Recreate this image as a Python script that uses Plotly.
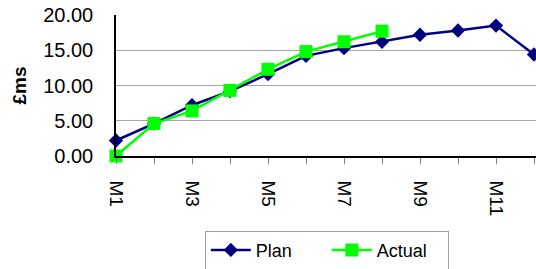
import plotly.graph_objects as go

months = ["M1", "M2", "M3", "M4", "M5", "M6", "M7", "M8", "M9", "M10", "M11", "M12"]
tick_labels = ["M1", "", "M3", "", "M5", "", "M7", "", "M9", "", "M11", ""]
plan = [2.2, 4.6, 7.2, 9.2, 11.6, 14.2, 15.3, 16.2, 17.2, 17.8, 18.5, 14.4]
actual = [0.0, 4.6, 6.4, 9.3, 12.3, 14.8, 16.2, 17.7]
y_ticks = [0, 5, 10, 15, 20]

x_idx = list(range(1, len(months) + 1))

FONT = "Liberation Sans, Arial, sans-serif"

fig = go.Figure()
fig.add_trace(go.Scatter(
    x=x_idx, y=plan, name="Plan", mode="lines+markers",
    line=dict(color="#000080", width=2.5),
    marker=dict(symbol="diamond", size=11, color="#000080"),
    cliponaxis=False,
))
fig.add_trace(go.Scatter(
    x=x_idx[:len(actual)], y=actual, name="Actual", mode="lines+markers",
    line=dict(color="#00FF00", width=2.5),
    marker=dict(symbol="square", size=13, color="#00FF00"),
    cliponaxis=False,
))

fig.update_layout(
    width=536, height=269,
    margin=dict(l=116, r=0, t=15, b=113, autoexpand=False),
    paper_bgcolor="white", plot_bgcolor="white",
    font=dict(family=FONT, size=19, color="black"),
    showlegend=True,
    legend=dict(
        orientation="h", x=0.502, xanchor="center", y=-0.53, yanchor="top",
        bordercolor="#A0A0A0", borderwidth=1, font=dict(size=18),
        itemwidth=40, entrywidth=66, entrywidthmode="pixels",
    ),
    xaxis=dict(
        range=[1, 12 + 2 / 38], tickvals=x_idx, ticktext=tick_labels,
        tickangle=90, ticks="outside", ticklen=6, tickcolor="#808080",
        showline=True, linecolor="black", linewidth=1.5,
        showgrid=False, zeroline=False, ticklabelstandoff=13,
        automargin=False, tickfont=dict(size=19),
    ),
    yaxis=dict(
        range=[0, 20], tickvals=y_ticks, tickformat=".2f",
        showline=True, linecolor="black", linewidth=1.5,
        showgrid=True, gridcolor="#A6A6A6", gridwidth=1, zeroline=False,
        ticks="outside", ticklen=17, tickcolor="rgba(0,0,0,0)",
        automargin=False, tickfont=dict(size=20),
        title=dict(text="<b>£ms</b>", standoff=12, font=dict(size=19)),
    ),
)

fig.write_html(
    "out.html",
    config={"displayModeBar": False},
    post_script="document.body.style.margin='0';document.body.style.overflow='hidden';",
)
